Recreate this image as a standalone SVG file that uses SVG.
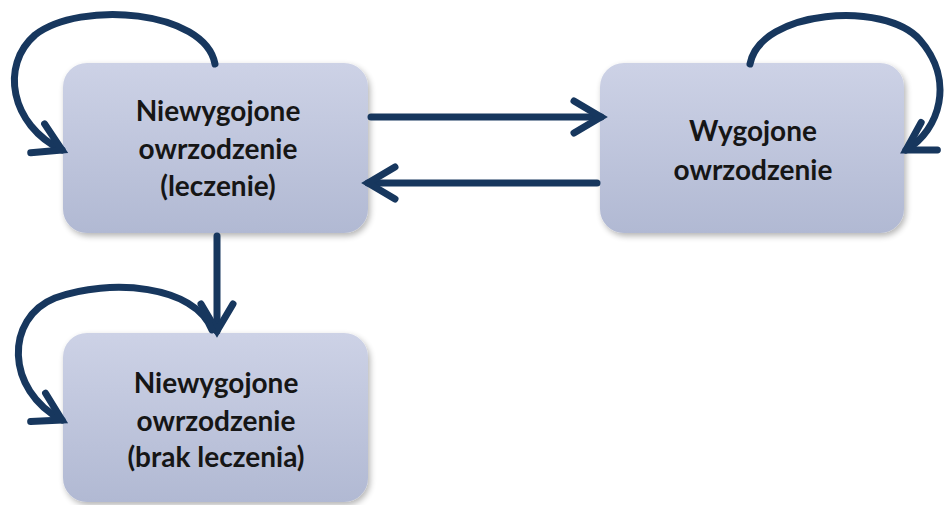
<svg xmlns="http://www.w3.org/2000/svg" width="944" height="505" viewBox="0 0 944 505">
<style>
.box{fill:url(#g);filter:url(#sh)}
.t{font-family:Lato,"Liberation Sans",sans-serif;font-weight:bold;font-size:28px;fill:#161616;text-anchor:middle}
.c{fill:none;stroke:#17375e;stroke-width:7;stroke-linecap:round;marker-end:url(#ah)}
</style>
<defs>
<linearGradient id="g" x1="0" y1="0" x2="0" y2="1">
<stop offset="0" stop-color="#cdd2e6"/>
<stop offset="1" stop-color="#b1b9d3"/>
</linearGradient>
<filter id="sh" x="-10%" y="-10%" width="125%" height="130%">
<feGaussianBlur in="SourceAlpha" stdDeviation="3"/>
<feOffset dx="2" dy="3" result="b"/>
<feComponentTransfer><feFuncA type="linear" slope="0.3"/></feComponentTransfer>
<feMerge><feMergeNode/><feMergeNode in="SourceGraphic"/></feMerge>
</filter>
<marker id="ah" markerUnits="userSpaceOnUse" orient="auto" overflow="visible" markerWidth="10" markerHeight="10" refX="0" refY="0">
<path d="M-27,-16 L0,0 L-27,16" fill="none" stroke="#17375e" stroke-width="7" stroke-linecap="round" stroke-linejoin="miter"/>
</marker>
</defs>
<rect width="944" height="505" fill="#ffffff"/>
<g id="n1">
<rect class="box" x="63" y="63" width="305" height="170" rx="24"/>
<text class="t" x="218" y="121">Niewygojone</text>
<text class="t" x="218" y="159">owrzodzenie</text>
<text class="t" x="218" y="196">(leczenie)</text>
</g>
<g id="n2">
<rect class="box" x="600" y="63" width="304" height="170" rx="24"/>
<text class="t" x="753" y="141">Wygojone</text>
<text class="t" x="753" y="180">owrzodzenie</text>
</g>
<g id="n3">
<rect class="box" x="63" y="333" width="305" height="169" rx="24"/>
<text class="t" x="216" y="393">Niewygojone</text>
<text class="t" x="216" y="431">owrzodzenie</text>
<text class="t" x="216" y="467">(brak leczenia)</text>
</g>
<g id="connectors">
<path class="c" d="M215,64 C205,10 80,0 35,35 C0,65 10,125 62,150"/>
<path class="c" d="M750,64 C760,10 885,0 920,40 C955,80 940,130 906,150"/>
<path class="c" d="M371,117 L601,117"/>
<path class="c" d="M597,183 L368,183"/>
<path class="c" d="M217,236 L217,331"/>
<path class="c" d="M212,330 C195,285 110,278 55,298 C5,318 5,390 62,420"/>
</g>
</svg>
